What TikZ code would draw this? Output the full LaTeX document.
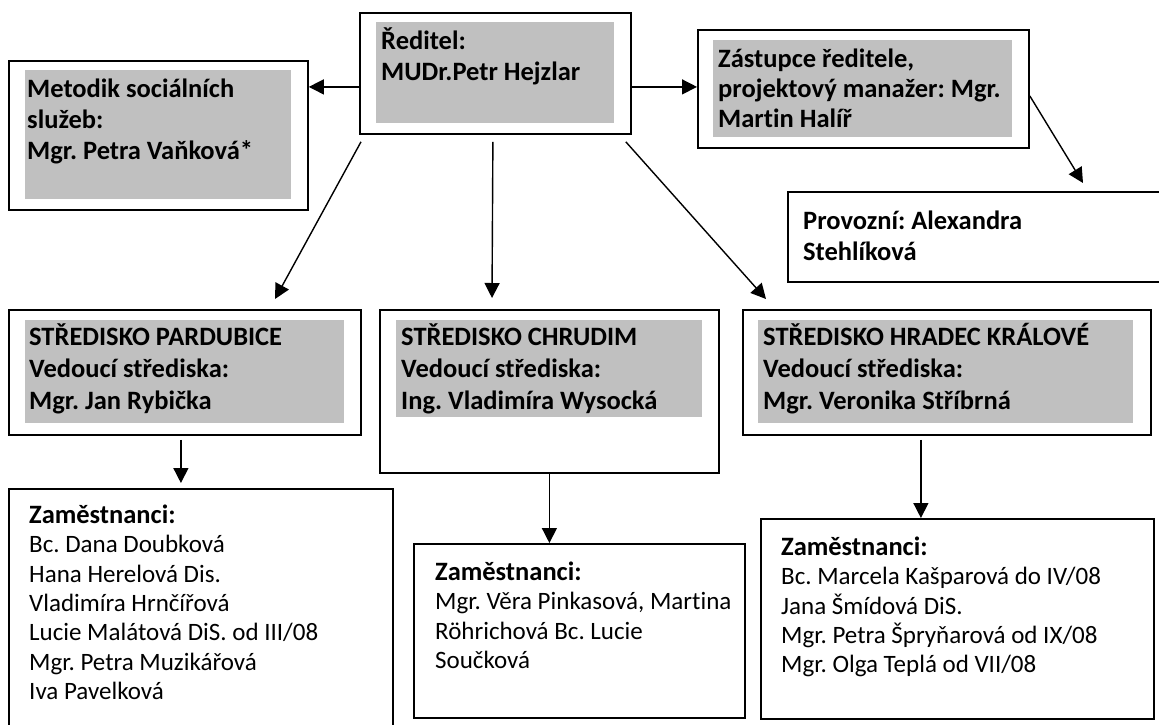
\documentclass[tikz,border=0pt]{standalone}
\usepackage{fontspec}
\setmainfont{Carlito}[Ligatures=NoCommon]
\usetikzlibrary{arrows.meta,calc}
\frenchspacing
\begin{document}
\begin{tikzpicture}[x=1pt,y=-1pt,
  box/.style={draw=black,line width=1.8pt,fill=white,inner sep=0pt,anchor=north west},
  gbox/.style={fill=graybg,draw=none,inner sep=0pt,anchor=north west},
  btxt/.style={inner sep=0pt,anchor=north west,align=left,font=\fontsize{26.5}{31}\selectfont\bfseries},
  rtxt/.style={inner sep=0pt,anchor=north west,align=left,font=\fontsize{25}{29.4}\selectfont},
  arr/.style={line width=1.4pt,-{Triangle[length=15pt,width=15pt]}}]
\definecolor{graybg}{RGB}{192,192,192}
\newcommand{\hd}[1]{{\fontsize{26.5}{29.4}\selectfont\bfseries #1}}
\useasboundingbox (0,0) rectangle (1159,724);
% Director
\node[box,minimum width=271pt,minimum height=121pt] (dir) at (359,12) {};
\node[gbox,minimum width=238pt,minimum height=101pt] (dirg) at (376,22) {};
\node[btxt] (dirt) at (381,23) {\rule{0pt}{26pt}Ředitel:\\MUDr.Petr Hejzlar};
% Metodik
\node[box,minimum width=299pt,minimum height=149pt] (met) at (8,60) {};
\node[gbox,minimum width=266pt,minimum height=129pt] (metg) at (25,70) {};
\node[btxt] (mett) at (27,71) {\rule{0pt}{26pt}Metodik sociálních\\služeb:\\Mgr. Petra Vaňková*};
% Zastupce
\node[box,minimum width=331pt,minimum height=118pt] (zas) at (697,29) {};
\node[gbox,minimum width=299pt,minimum height=97pt] (zasg) at (713,40) {};
\node[btxt,font=\fontsize{26.5}{30}\selectfont\bfseries] (zast) at (718,41) {\rule{0pt}{26pt}Zástupce ředitele,\\projektový manažer: Mgr.\\Martin Halíř};
% Provozni
\node[box,minimum width=380pt,minimum height=90pt] (prov) at (787,191) {};
\node[btxt] (provt) at (803,203) {\rule{0pt}{26pt}Provozní: Alexandra\\Stehlíková};
% Strediska
\node[box,minimum width=352pt,minimum height=125pt] (par) at (8,309) {};
\node[gbox,minimum width=319pt,minimum height=103pt] (parg) at (25,320) {};
\node[btxt,font=\fontsize{26.5}{32}\selectfont\bfseries] (part) at (29,319) {\rule{0pt}{26pt}STŘEDISKO PARDUBICE\\Vedoucí střediska:\\Mgr. Jan Rybička};
\node[box,minimum width=339pt,minimum height=163pt] (chr) at (379,309) {};
\node[gbox,minimum width=306pt,minimum height=97pt] (chrg) at (396,320) {};
\node[btxt,font=\fontsize{26.5}{32}\selectfont\bfseries] (chrt) at (401,319) {\rule{0pt}{26pt}STŘEDISKO CHRUDIM\\Vedoucí střediska:\\Ing. Vladimíra Wysocká};
\node[box,minimum width=408pt,minimum height=125pt] (hk) at (742,309) {};
\node[gbox,minimum width=375pt,minimum height=103pt] (hkg) at (758,320) {};
\node[btxt,font=\fontsize{26.5}{32}\selectfont\bfseries] (hkt) at (763,319) {\rule{0pt}{26pt}STŘEDISKO HRADEC KRÁLOVÉ\\Vedoucí střediska:\\Mgr. Veronika Stříbrná};
% Zamestnanci
\node[box,minimum width=384pt,minimum height=245pt] (parE) at (8,488) {};
\node[rtxt] (parEt) at (29,497) {\rule{0pt}{26pt}\hd{Zaměstnanci:}\\Bc. Dana Doubková\\Hana Herelová Dis.\\Vladimíra Hrnčířová\\Lucie Malátová DiS. od III/08\\Mgr. Petra Muzikářová\\Iva Pavelková};
\node[box,minimum width=331pt,minimum height=174pt] (chrE) at (413,543) {};
\node[rtxt] (chrEt) at (435,554) {\rule{0pt}{26pt}\hd{Zaměstnanci:}\\Mgr. Věra Pinkasová, Martina\\Röhrichová Bc. Lucie\\Součková};
\node[box,minimum width=393pt,minimum height=200pt] (hkE) at (760,518) {};
\node[rtxt] (hkEt) at (781,529) {\rule{0pt}{26pt}\hd{Zaměstnanci:}\\Bc. Marcela Kašparová do IV/08\\Jana Šmídová DiS.\\Mgr. Petra Špryňarová od IX/08\\Mgr. Olga Teplá od VII/08};
% Connectors
\draw[arr] ($(dir.west)+(0,13.5)$) -- ($(met.east)+(0,-48.5)$);
\draw[arr] ($(dir.east)+(0,13.5)$) -- ($(zas.west)+(0,-2)$);
\draw[arr] ($(zas.east)+(0,7)$) -- ($(prov.north west)+(296,-8)$);
\draw[arr] ($(dir.south west)+(2,7)$) -- ($(par.north west)+(267,-10)$);
\draw[arr] ($(dir.south)+(-2.5,7)$) -- ($(chr.north west)+(113,-11)$);
\draw[arr] ($(dir.south east)+(-6,7)$) -- ($(hk.north west)+(24,-10)$);
\draw[arr] ($(par.south)+(-4,4)$) coordinate (p1) -- ($(p1 |- parE.north)+(0,-5)$);
\draw[arr] (chr.south) -- (chr.south |- chrE.north);
\draw[arr] ($(hk.south)+(-26,4)$) coordinate (h1) -- (h1 |- hkE.north);
\end{tikzpicture}
\end{document}
